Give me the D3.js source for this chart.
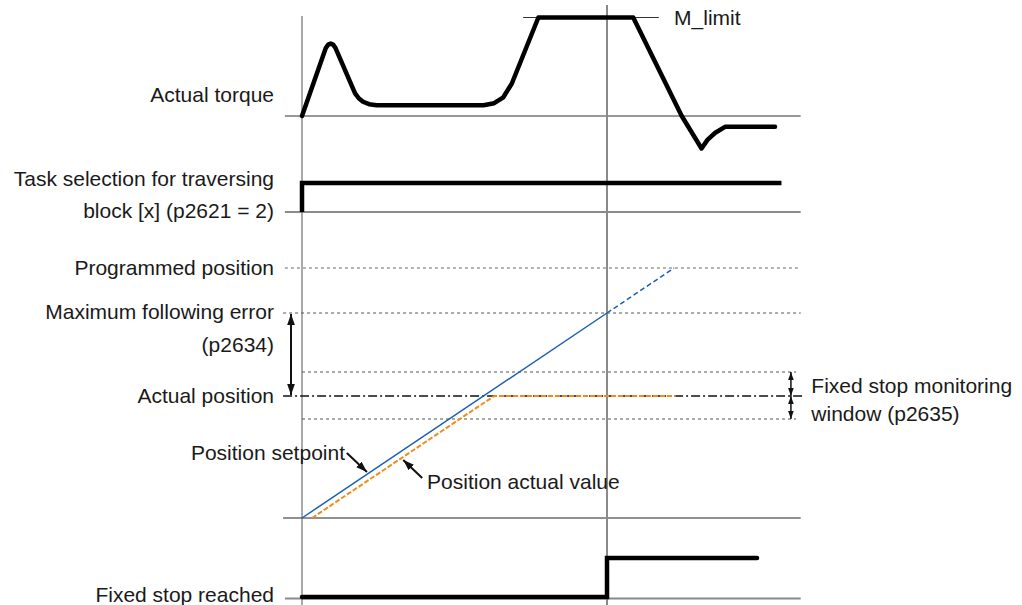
<!DOCTYPE html>
<html>
<head>
<meta charset="utf-8">
<script src="https://cdn.jsdelivr.net/npm/d3@7"></script>
<style>
  html, body { margin: 0; padding: 0; background: #fff; }
  svg { display: block; }
  text { font-family: "Liberation Sans", Arial, sans-serif; font-size: 21px; fill: #1a1a1a; }
</style>
</head>
<body>
<svg id="chart" width="1022" height="605"></svg>
<script>
// ---- Data (time in units; t = 10 is the moment the fixed stop is reached) ----
const torqueT = [0, 0.78, 0.86, 0.94, 1.02, 1.1, 1.74, 1.86, 2.0, 2.2, 2.45, 5.95, 6.3, 6.6, 6.88, 7.75, 10.86, 12.45, 13.1, 13.3, 13.55, 13.87, 15.51];
const torqueV = [0, 0.69, 0.725, 0.735, 0.725, 0.69, 0.23, 0.18, 0.145, 0.12, 0.11, 0.11, 0.13, 0.19, 0.33, 1.0, 1.0, 0, -0.33, -0.24, -0.17, -0.11, -0.11];
const mLimit = 1.0;

const taskT = [0, 0, 15.72];
const taskV = [0, 1, 1];

const setpointSolidT = [0, 10];
const setpointSolidV = [0, 205];
const setpointDashT = [10, 12.2];
const setpointDashV = [205, 250];

const actualT = [0.33, 6.3, 12.25];
const actualV = [0, 122, 122];

const stopT = [0, 10, 10, 14.92];
const stopV = [0, 0, 1, 1];

const programmedPos = 250;
const maxFollowErr = 205;
const actualPos = 122;
const windowUpper = 146;
const windowLower = 99;

const leftLabels = [
  { text: "Actual torque", panel: "torque", v: 0.22 },
  { text: "Task selection for traversing", panel: "task", v: 1.15 },
  { text: "block [x] (p2621 = 2)", panel: "task", v: 0.03 },
  { text: "Programmed position", panel: "pos", v: 250 },
  { text: "Maximum following error", panel: "pos", v: 206 },
  { text: "(p2634)", panel: "pos", v: 173 },
  { text: "Actual position", panel: "pos", v: 122 },
  { text: "Fixed stop reached", panel: "stop", v: 0.06 }
];

// ---- Scales ----
const x = d3.scaleLinear().domain([0, 10]).range([302, 607]);
const yTorque = d3.scaleLinear().domain([0, 1]).range([116, 17.5]);
const yTask = d3.scaleLinear().domain([0, 1]).range([212, 183]);
const yPos = d3.scaleLinear().domain([0, 250]).range([518, 268]);
const yStop = d3.scaleLinear().domain([0, 1]).range([597, 558]);
const panelY = { torque: yTorque, task: yTask, pos: yPos, stop: yStop };

const tLeft = -0.56, tRight = 16.35, tLeftLong = -0.62, tWinStart = 0, tWinEnd = 16.2;

const svg = d3.select("#chart");
svg.append("rect").attr("width", 1022).attr("height", 605).attr("fill", "#fff");

const defs = svg.append("defs");
function marker(id, size) {
  defs.append("marker").attr("id", id)
    .attr("viewBox", "0 0 10 10").attr("refX", 10).attr("refY", 5)
    .attr("markerWidth", size).attr("markerHeight", size)
    .attr("markerUnits", "userSpaceOnUse")
    .attr("orient", "auto-start-reverse")
    .append("path").attr("d", "M0,1.5 L10,5 L0,8.5 Z").attr("fill", "#111");
}
marker("arrBig", 11);
marker("arrSmall", 8);

const g = svg.append("g");

function hline(t0, t1, y, stroke, width, dash) {
  const l = g.append("line").attr("x1", x(t0)).attr("x2", x(t1)).attr("y1", y).attr("y2", y)
    .attr("stroke", stroke).attr("stroke-width", width);
  if (dash) l.attr("stroke-dasharray", dash);
  return l;
}

// ---- Guide lines ----
hline(tLeft, tRight, yTorque(0), "#333", 1);
hline(tLeft, tRight, yTask(0), "#8a8a8a", 2);
hline(tLeft, tRight, yPos(programmedPos), "#666", 1, "3,3");
hline(tLeftLong, tRight, yPos(maxFollowErr), "#555", 1, "3,3");
hline(tWinStart, tWinEnd, yPos(windowUpper), "#555", 1, "3,3");
hline(tWinStart, tWinEnd, yPos(windowLower), "#555", 1, "3,3");
hline(tLeftLong, tRight, yPos(0), "#222", 1);
hline(tLeft, tRight, yStop(0) + 1.5, "#8a8a8a", 2);

// Vertical lines
g.append("line").attr("x1", x(0)).attr("x2", x(0)).attr("y1", 16).attr("y2", 605)
  .attr("stroke", "#555").attr("stroke-width", 1);
g.append("line").attr("x1", x(10)).attr("x2", x(10)).attr("y1", 5).attr("y2", 605)
  .attr("stroke", "#8a8a8a").attr("stroke-width", 2);

// M_limit line
hline(7.25, 11.7, yTorque(mLimit), "#333", 1);

// ---- Signals ----
const line = d3.line().x(d => x(d[0])).y(d => d[1]);

g.append("path")
  .attr("d", line(torqueT.map((t, i) => [t, yTorque(torqueV[i])])))
  .attr("fill", "none").attr("stroke", "#000").attr("stroke-width", 4.5)
  .attr("stroke-linejoin", "round").attr("stroke-linecap", "round");

g.append("path")
  .attr("d", line(taskT.map((t, i) => [t, yTask(taskV[i])])))
  .attr("fill", "none").attr("stroke", "#000").attr("stroke-width", 4.5)
  .attr("stroke-linejoin", "miter").attr("stroke-linecap", "butt");

g.append("path")
  .attr("d", line(stopT.map((t, i) => [t, yStop(stopV[i])])))
  .attr("fill", "none").attr("stroke", "#000").attr("stroke-width", 4.5)
  .attr("stroke-linejoin", "miter").attr("stroke-linecap", "round");

// Actual position dash-dot line
hline(tLeftLong, tRight + 0.05, yPos(actualPos), "#111", 1.5, "9,3,2,3");

// Orange actual value
g.append("path")
  .attr("d", line(actualT.map((t, i) => [t, yPos(actualV[i])])))
  .attr("fill", "none").attr("stroke", "#f28a1e").attr("stroke-width", 2)
  .attr("stroke-dasharray", "5,2");

// Blue setpoint
g.append("path")
  .attr("d", line(setpointSolidT.map((t, i) => [t, yPos(setpointSolidV[i])])))
  .attr("fill", "none").attr("stroke", "#1a5fb4").attr("stroke-width", 1.5);
g.append("path")
  .attr("d", line(setpointDashT.map((t, i) => [t, yPos(setpointDashV[i])])))
  .attr("fill", "none").attr("stroke", "#1a5fb4").attr("stroke-width", 1.5)
  .attr("stroke-dasharray", "5,3");

// ---- Arrows ----
function arrow(x1, y1, x2, y2, m, both, w) {
  const l = g.append("line").attr("x1", x1).attr("y1", y1).attr("x2", x2).attr("y2", y2)
    .attr("stroke", "#111").attr("stroke-width", w || 1.5)
    .attr("marker-end", `url(#${m})`);
  if (both) l.attr("marker-start", `url(#${m})`);
}
arrow(x(-0.36), yPos(maxFollowErr) + 1, x(-0.36), yPos(actualPos) - 1, "arrBig", true, 2);
arrow(x(16.03), yPos(windowUpper), x(16.03), yPos(actualPos), "arrSmall", true, 1.5);
arrow(x(16.03), yPos(actualPos), x(16.03), yPos(windowLower), "arrSmall", true, 1.5);
arrow(x(1.47), yPos(65), x(2.13), yPos(46), "arrBig", false, 2);
arrow(x(3.94), yPos(40), x(3.32), yPos(58), "arrBig", false, 2);

// ---- Labels ----
const lab = g.append("g");
leftLabels.forEach(d => {
  lab.append("text").attr("x", 274).attr("y", panelY[d.panel](d.v))
    .attr("dy", "0.35em").attr("text-anchor", "end").text(d.text);
});
lab.append("text").attr("x", x(12.2)).attr("y", yTorque(mLimit)).attr("dy", "0.35em").text("M_limit");
lab.append("text").attr("x", x(16.7)).attr("y", yPos(132)).attr("dy", "0.35em").text("Fixed stop monitoring");
lab.append("text").attr("x", x(16.7)).attr("y", yPos(104)).attr("dy", "0.35em").text("window (p2635)");
lab.append("text").attr("x", 345).attr("y", yPos(65)).attr("dy", "0.35em").attr("text-anchor", "end").text("Position setpoint");
lab.append("text").attr("x", x(4.1)).attr("y", yPos(36)).attr("dy", "0.35em").text("Position actual value");
</script>
</body>
</html>
